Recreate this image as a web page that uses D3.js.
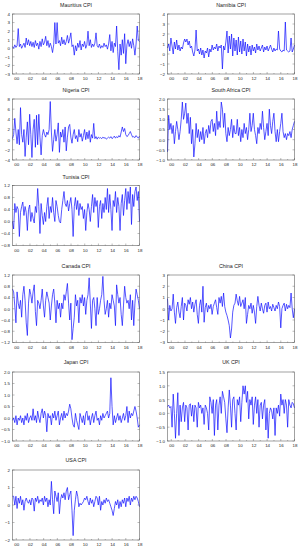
<!DOCTYPE html>
<html>
<head>
<meta charset="utf-8">
<script src="https://cdn.jsdelivr.net/npm/d3@7"></script>
<style>
  body { margin: 0; background: #fff; }
  text { font-family: "Liberation Sans", Arial, sans-serif; fill: #222; }
</style>
</head>
<body>
<div id="chart"></div>
<script>
// year ticks shared by all panels
const yearTicks = [2000, 2002, 2004, 2006, 2008, 2010, 2012, 2014, 2016, 2018]
const yearLabels = ["00", "02", "04", "06", "08", "10", "12", "14", "16", "18"]
const firstObs = 1999.45
const lastObs = 2018.0

// monthly CPI changes (roughly one value every two months)
const mauritius = [0.2,0.0,0.4,0.1,0.3,2.3,0.2,0.5,0.0,0.3, 0.6,0.1,1.2,0.4,1.0,0.3,0.8,0.2,0.7,0.1,
  0.9,0.3,0.6,-0.1,0.8,0.2,1.1,0.4,0.7,1.4, 0.3,0.9,0.1,0.6,0.2,-0.5,0.4,3.0,0.5,3.0,
  0.6,0.9,0.3,1.3,0.5,1.0,0.4,0.8,1.5,0.6, 1.1,1.8,0.2,0.4,-0.8,0.3,-0.3,0.6,0.1,0.9,
  -0.2,0.5,0.2,0.8,0.0,0.4,2.0,0.3,1.0,0.1, 0.5,0.2,0.6,1.8,0.3,0.1,0.5,0.0,0.3,0.1,
  0.6,0.2,0.4,-0.1,0.5,1.6,-0.3,0.8,-0.5,0.6, 0.2,2.6,-0.4,-2.5,0.5,-0.8,1.0,-0.6,1.7,-1.8,
  0.4,1.0,0.2,0.8,0.0,1.1,0.3,-0.8,0.5,2.6, 0.9,0.8]
const namibia = [0.6,1.0,0.3,1.6,0.8,0.0,1.2,0.5,1.4,0.4, 0.9,0.3,0.7,0.5,1.1,1.5,1.2,1.5,0.9,1.3,
  0.6,0.8,0.2,-0.2,0.4,2.4,0.3,0.5,0.0,0.6, -0.1,0.4,-0.4,0.3,0.1,0.6,-0.3,0.5,0.2,0.9,
  0.4,0.7,0.5,1.0,0.3,0.8,0.6,0.9,-1.5,0.8, 0.4,1.2,2.3,0.1,1.8,0.5,2.0,-0.2,1.6,0.3,
  1.4,-0.1,1.7,0.2,1.3,0.0,1.5,0.3,1.2,-0.2, 1.0,0.2,0.8,-0.1,0.9,0.3,0.7,0.1,1.0,0.4,
  0.8,0.3,0.6,0.9,0.2,0.7,0.4,0.8,0.3,0.6, 0.9,0.5,0.2,0.6,0.3,0.5,0.4,2.3,0.5,0.3,
  0.2,0.4,0.3,3.2,0.4,0.3,0.2,0.3,1.6,0.2, 0.5,0.9]
const nigeria = [0.2,1.0,4.2,1.5,-0.8,2.0,-1.0,6.3,1.0,-0.5, 2.0,-3.3,0.5,3.5,-1.0,5.0,1.0,-3.5,2.0,4.0,
  -1.5,4.8,-1.0,5.0,0.5,-3.0,0.8,2.0,1.0,0.5, 1.5,1.0,2.0,7.5,1.5,-2.3,0.0,2.0,-0.3,1.0,
  3.3,-2.5,1.5,0.5,2.0,-0.5,2.5,-2.2,0.5,2.5, 3.0,0.5,-0.7,1.0,2.0,0.2,0.8,-0.4,2.0,0.5,
  1.2,-0.3,0.8,2.0,0.0,1.5,0.2,1.8,-0.5,1.0, 0.3,3.2,0.2,0.6,0.1,0.5,0.3,0.4,0.2,0.5,
  0.3,0.4,0.1,0.3,0.5,0.3,0.6,0.2,0.4,0.7, 0.3,0.6,0.4,0.8,0.5,1.5,2.5,1.6,2.2,1.0,
  0.6,0.8,1.2,1.6,1.0,0.5,0.6,0.4,0.8,0.5, 0.3,0.7]
const southAfrica = [-0.6,1.2,0.5,0.8,0.3,0.7,-0.2,0.4,0.9,0.5, 0.0,0.4,1.0,1.85,1.0,1.3,1.8,0.8,1.3,0.3,
  1.1,-0.2,0.5,-0.85,-0.2,0.8,0.1,0.5,-0.1,0.4, 0.0,0.6,-0.2,0.3,0.5,0.1,0.7,0.3,0.9,1.0,
  0.4,0.8,0.2,1.4,0.5,0.9,0.6,1.85,1.5,0.6, 1.3,0.3,-0.1,0.6,0.2,0.5,1.0,0.1,0.7,0.3,
  0.3,1.0,0.2,0.6,-0.1,0.5,0.1,0.8,0.3,0.6, 0.0,0.5,1.3,0.4,0.7,1.3,0.5,0.2,-0.2,0.6,
  0.3,0.8,0.5,1.4,0.6,0.0,0.4,0.8,0.2,1.5, 0.7,0.3,0.9,1.3,0.4,-0.1,0.5,-0.1,0.4,0.8,
  1.3,0.4,0.1,0.3,0.0,0.3,0.2,0.4,0.1,0.5, 0.7,0.9]
const tunisia = [0.0,-0.25,0.6,0.3,0.5,0.4,-0.5,0.3,0.5,0.65, 0.2,0.5,0.3,-0.3,0.4,0.55,0.0,0.3,0.1,-0.05,
  0.5,0.3,1.1,0.5,-0.4,0.6,0.2,-0.1,0.3,0.0, 0.5,0.8,0.1,0.5,0.3,0.8,0.3,0.0,0.7,0.5,
  0.2,0.0,-0.05,0.4,0.7,1.0,0.6,0.5,0.7,0.35, 0.6,0.8,0.4,-0.5,0.5,0.8,0.4,0.7,0.2,0.6,
  0.4,0.5,0.1,0.4,-0.3,0.3,0.6,0.4,0.0,0.5, 0.9,0.3,0.8,0.5,0.7,-0.2,0.5,0.7,0.1,0.6,
  0.3,0.8,0.4,1.1,0.3,0.9,0.4,-0.3,0.7,0.5, 1.0,0.3,0.8,0.5,-0.3,0.6,0.9,0.2,0.7,1.1,
  0.4,1.0,0.6,1.15,-0.1,0.9,0.5,1.0,1.15,0.7, 1.0,0.0]
const canada = [0.7,0.6,0.1,-0.5,0.6,0.2,0.0,0.3,-0.3,0.5, 0.8,0.3,-0.5,-0.95,0.2,0.7,0.5,0.2,0.6,0.85,
  -0.1,-0.6,0.3,0.2,0.0,0.3,0.7,0.1,-0.3,0.3, 0.6,0.4,0.2,-0.4,0.1,0.5,0.7,0.2,-0.5,0.3,
  0.0,0.2,-0.3,0.2,0.0,0.5,0.3,0.6,0.9,0.2, -0.4,0.2,-1.1,-0.7,-0.3,0.5,0.1,0.3,-0.5,0.4,
  0.2,0.5,0.1,0.4,-0.2,0.3,0.5,1.1,0.2,-0.7, 0.3,0.4,0.0,-0.6,0.4,-0.2,0.0,0.3,0.5,1.15,
  0.3,-0.2,0.0,0.3,-0.3,0.2,0.0,0.5,0.3,0.1, -0.6,0.85,0.5,0.2,0.4,-0.2,-0.6,0.1,0.8,0.4,
  0.2,0.3,0.0,0.5,-0.4,0.3,-0.6,0.2,0.7,0.5, 0.3,0.0]
const china = [0.9,-1.0,0.3,-0.2,0.0,1.3,-0.3,-1.3,0.1,0.6, -0.3,-0.8,0.2,1.0,-1.0,0.5,0.3,-0.2,0.8,0.4,
  1.0,0.0,0.6,-0.3,0.4,0.8,-0.5,-1.3,0.3,0.8, -0.3,2.0,-1.2,0.1,0.5,-0.3,0.3,0.0,0.4,-0.5,
  0.2,0.5,0.8,0.1,-0.5,1.0,0.5,1.1,0.2,1.4, 0.2,-0.3,-0.6,-1.0,-1.5,-2.6,-1.8,-0.3,0.3,0.5,
  1.3,0.7,0.3,1.1,0.2,0.5,0.8,0.0,1.0,-1.3, -0.5,0.3,0.0,0.5,-0.4,0.3,-0.3,-1.3,0.2,1.1,
  0.3,-0.2,0.5,0.0,-0.4,0.3,0.5,-0.3,0.6,0.0, 0.2,-0.2,0.4,0.1,-0.2,0.3,0.0,0.6,0.2,-1.7,
  0.0,0.3,0.5,-0.2,0.4,0.0,0.3,0.1,1.4,0.0, -0.8,0.0]
const japan = [-0.1,0.0,-0.2,0.1,-0.3,0.0,-0.1,0.1,-0.2,0.0, -0.3,0.1,-0.1,0.2,-0.2,0.0,0.1,-0.1,0.4,-0.1,
  0.1,-0.2,0.3,0.0,-0.2,0.2,0.4,0.0,0.3,0.1, -0.6,0.2,0.0,0.1,-0.3,0.2,0.0,0.3,-0.1,0.1,
  0.3,-0.3,0.0,0.2,-0.1,0.3,0.0,0.2,0.1,0.3, 0.6,0.4,0.0,-0.3,-0.4,0.2,-0.1,-0.3,-0.5,0.2,
  0.0,-0.2,0.1,-0.3,0.2,0.3,-0.1,0.1,-0.3,0.0, 0.2,-0.2,0.1,0.3,-0.1,0.0,-0.3,0.1,-0.1,0.2,
  0.0,0.1,0.2,0.3,0.0,0.2,1.75,0.5,-0.3,0.1, -0.2,0.0,0.2,-0.1,0.1,-0.2,0.0,0.2,-0.1,0.1,
  0.5,-0.2,0.3,0.0,0.2,0.1,0.3,0.5,0.3,0.0, -0.4,-0.3]
const uk = [0.25,0.3,0.2,0.25,-0.5,0.7,0.0,-0.9,0.0,0.75, -0.8,0.3,-0.3,0.2,0.4,-0.3,0.3,0.2,-0.6,0.3,
  0.35,-0.1,0.3,-0.3,0.3,0.2,-0.5,0.4,0.2,0.3, 0.0,0.2,-0.4,0.3,0.2,0.0,-0.6,0.6,0.4,0.0,
  0.5,-0.8,0.3,0.5,-0.6,0.3,0.6,0.0,0.8,0.6, 0.4,-0.2,-0.7,0.2,0.85,0.3,-0.5,0.5,0.6,0.0,
  -0.6,0.5,0.3,0.6,-0.3,0.4,1.0,0.7,1.0,0.4, 0.8,-0.2,0.5,0.3,0.6,-0.4,0.3,0.6,0.0,0.5,
  -0.5,0.3,0.4,-0.2,0.3,0.5,-0.6,0.2,-0.9,0.0, 0.2,0.1,-0.2,0.2,-0.8,0.2,0.0,0.3,-0.1,0.7,
  0.3,0.5,0.0,0.5,0.3,-0.5,0.5,0.3,0.2,0.4, 0.35,0.2]
const usa = [0.5,0.5,0.0,0.5,-0.2,0.4,0.1,0.5,0.0,0.3, -0.3,0.2,0.4,0.2,0.1,0.3,0.0,0.4,0.3,-0.35,
  0.4,0.2,0.5,0.1,0.3,0.2,0.4,0.0,0.5,0.2, 0.4,-0.1,0.3,0.0,1.35,0.3,-0.5,0.8,0.5,0.2,
  0.7,-0.5,0.3,0.6,0.4,0.7,0.3,0.8,1.0,0.3, 0.6,0.8,-0.3,-1.75,-0.3,0.3,0.8,0.5,-0.1,0.1,
  0.0,0.1,0.2,0.4,0.3,0.5,0.2,0.0,0.4,0.1, 0.3,-0.1,0.2,0.5,0.4,0.0,0.5,-0.3,0.2,0.0,
  0.3,0.1,0.4,0.2,0.3,0.1,-0.1,-0.3,-0.6,-0.2, 0.2,0.0,0.3,-0.2,0.2,-0.1,0.3,0.1,0.4,-0.1,
  0.4,0.2,0.5,0.0,0.4,0.2,0.5,0.3,0.5,0.4, 0.2,-0.1]

const titles = ["Mauritius CPI", "Namibia CPI", "Nigeria CPI", "South Africa CPI", "Tunisia CPI",
  "Canada CPI", "China CPI", "Japan CPI", "UK CPI", "USA CPI"]
const allSeries = [mauritius, namibia, nigeria, southAfrica, tunisia, canada, china, japan, uk, usa]
const yTicks = [
  [-3,-2,-1,0,1,2,3,4],
  [-2,-1,0,1,2,3,4],
  [-4,-2,0,2,4,6,8],
  [-1.0,-0.5,0.0,0.5,1.0,1.5,2.0],
  [-0.8,-0.4,0.0,0.4,0.8,1.2],
  [-1.2,-0.8,-0.4,0.0,0.4,0.8,1.2],
  [-3,-2,-1,0,1,2,3],
  [-1.0,-0.5,0.0,0.5,1.0,1.5,2.0],
  [-1.0,-0.5,0.0,0.5,1.0,1.5],
  [-2,-1,0,1,2]
]
const yDecimals = [0, 0, 0, 1, 1, 1, 0, 1, 1, 0]

// panel placement: column and row frames
var cols = [[12.5, 139.5], [167.5, 294.5]]
var rows = [
  {title: 5.5, top: 14, bottom: 74},
  {title: 91, top: 99, bottom: 160},
  {title: 177.5, top: 185.5, bottom: 245.5},
  {title: 266.5, top: 275, bottom: 342.5},
  {title: 363, top: 372, bottom: 441},
  {title: 460.5, top: 470, bottom: 540}
]
var place = [[0,0],[1,0],[0,1],[1,1],[0,2],[0,3],[1,3],[0,4],[1,4],[0,5]]

var svg = d3.select("#chart").append("svg")
    .attr("width", 301)
    .attr("height", 550)

var n = mauritius.length
var dates = d3.range(n).map(i => firstObs + i * (lastObs - firstObs) / (n - 1))

allSeries.forEach(function(values, k) {
    var col = cols[place[k][0]]
    var row = rows[place[k][1]]
    var xs = d3.scaleLinear().domain([firstObs, lastObs]).range(col)
    var ext = d3.extent(yTicks[k])
    var ys = d3.scaleLinear().domain(ext).range([row.bottom, row.top])
    var g = svg.append("g")

    // title
    g.append("text")
        .attr("x", (col[0] + col[1]) / 2)
        .attr("y", row.title)
        .attr("text-anchor", "middle")
        .attr("dominant-baseline", "middle")
        .style("font-size", "5.3px")
        .text(titles[k])

    // x axis labels
    g.append("g")
        .attr("transform", "translate(0," + row.bottom + ")")
        .call(d3.axisBottom(xs).tickValues(yearTicks)
            .tickFormat((d, i) => yearLabels[i]).tickSize(0).tickPadding(3.2))
        .call(a => a.select(".domain").remove())
        .selectAll("text").style("font-size", "4.4px").attr("fill", "#222")

    // y axis labels
    var fmt = d3.format("." + yDecimals[k] + "f")
    g.append("g")
        .attr("transform", "translate(" + col[0] + ",0)")
        .call(d3.axisLeft(ys).tickValues(yTicks[k]).tickFormat(fmt).tickSize(0).tickPadding(2.5))
        .call(a => a.select(".domain").remove())
        .selectAll("text").style("font-size", "4.4px").attr("fill", "#222")

    // inner tick marks
    g.selectAll(".xt").data(d3.range(2000, 2019)).enter().append("line")
        .attr("x1", d => xs(d)).attr("x2", d => xs(d))
        .attr("y1", row.bottom).attr("y2", d => row.bottom - (d % 2 == 0 ? 2 : 1))
        .attr("stroke", "#555").attr("stroke-width", 0.4)
    g.selectAll(".yt").data(yTicks[k]).enter().append("line")
        .attr("x1", col[0]).attr("x2", col[0] + 2)
        .attr("y1", d => ys(d)).attr("y2", d => ys(d))
        .attr("stroke", "#555").attr("stroke-width", 0.4)
    g.selectAll(".yt2").data(yTicks[k]).enter().append("line")
        .attr("x1", col[1]).attr("x2", col[1] - 2)
        .attr("y1", d => ys(d)).attr("y2", d => ys(d))
        .attr("stroke", "#555").attr("stroke-width", 0.4)

    // the series
    var line = d3.line()
        .x((d, i) => xs(dates[i]))
        .y(d => ys(d))
    g.append("path")
        .datum(values)
        .attr("d", line)
        .attr("fill", "none")
        .attr("stroke", "#1010ff")
        .attr("stroke-width", 0.7)
        .attr("stroke-linejoin", "round")

    // frame
    g.append("rect")
        .attr("x", col[0]).attr("y", row.top)
        .attr("width", col[1] - col[0]).attr("height", row.bottom - row.top)
        .attr("fill", "none")
        .attr("stroke", "#444")
        .attr("stroke-width", 0.5)
})
</script>
</body>
</html>
